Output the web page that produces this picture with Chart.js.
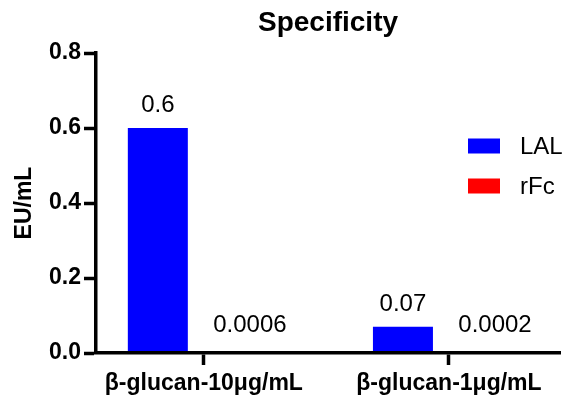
<!DOCTYPE html>
<html>
<head>
<meta charset="utf-8">
<script src="https://cdn.jsdelivr.net/npm/chart.js@4/dist/chart.umd.min.js"></script>
<style>
  html, body { margin: 0; padding: 0; background: #fff; }
  #wrap { width: 579px; height: 413px; position: relative; }
</style>
</head>
<body>
<div id="wrap"><canvas id="c"></canvas></div>
<script>
const categories = ['β-glucan-10μg/mL', 'β-glucan-1μg/mL'];
const seriesNames = ['LAL', 'rFc'];
const lalValues = [0.6, 0.07];
const rfcValues = [0.0006, 0.0002];
const yTicks = [0, 0.2, 0.4, 0.6, 0.8];

const FONT = "'Liberation Sans', Arial, sans-serif";
Chart.defaults.color = '#000';
Chart.defaults.font.family = FONT;

const valueLabels = {
  id: 'valueLabels',
  afterDraw(chart) {
    const ctx = chart.ctx;
    ctx.save();
    ctx.font = '24px ' + FONT;
    ctx.fillStyle = '#000';
    ctx.textAlign = 'center';
    ctx.textBaseline = 'alphabetic';
    chart.data.datasets.forEach((ds, di) => {
      const meta = chart.getDatasetMeta(di);
      meta.data.forEach((bar, i) => {
        const v = ds.data[i].y;
        const y = Math.min(bar.y - 16, bar.base - 21);
        ctx.fillText(String(v), bar.x, y);
      });
    });
    ctx.restore();
  }
};

const sideLegend = {
  id: 'sideLegend',
  afterDraw(chart) {
    const ctx = chart.ctx;
    const a = chart.chartArea;
    ctx.save();
    chart.data.datasets.forEach((ds, i) => {
      const y = a.top + 93 + i * 40;
      ctx.fillStyle = ds.backgroundColor;
      ctx.fillRect(a.right - 92, y - 7.5, 32, 15);
      ctx.fillStyle = '#000';
      ctx.font = '24px ' + FONT;
      ctx.textAlign = 'left';
      ctx.textBaseline = 'middle';
      ctx.fillText(ds.label, a.right - 40, y + 1);
    });
    ctx.restore();
  }
};

new Chart(document.getElementById('c'), {
  type: 'bar',
  data: {
    datasets: [
      {
        label: seriesNames[0],
        data: lalValues.map((v, i) => ({ x: i, y: v })),
        backgroundColor: '#0000ff',
        categoryPercentage: 0.751,
        barPercentage: 0.652
      },
      {
        label: seriesNames[1],
        data: rfcValues.map((v, i) => ({ x: i, y: v })),
        backgroundColor: '#ff0000',
        categoryPercentage: 0.751,
        barPercentage: 0.652
      }
    ]
  },
  options: {
    responsive: true,
    maintainAspectRatio: false,
    animation: false,
    layout: { padding: { left: 0, right: 19, top: 0, bottom: 0 } },
    plugins: {
      legend: { display: false },
      tooltip: { enabled: false },
      title: {
        display: true,
        text: 'Specificity',
        fullSize: false,
        font: { size: 28, weight: 'bold', family: FONT },
        color: '#000',
        padding: { top: 6, bottom: 13.4 }
      }
    },
    scales: {
      x: {
        type: 'linear',
        min: -0.44,
        max: 1.453,
        offset: false,
        afterBuildTicks(scale) {
          scale.ticks = categories.map((_, i) => ({ value: i }));
        },
        afterFit(scale) { scale.height = 60; },
        ticks: {
          callback: (v) => categories[v] ?? '',
          font: { size: 23, weight: 'bold', family: FONT },
          color: '#000',
          padding: 5,
          maxRotation: 0,
          autoSkip: false
        },
        grid: {
          display: true,
          offset: false,
          z: 1,
          drawOnChartArea: false,
          drawTicks: true,
          tickLength: 12,
          tickWidth: 3.5,
          tickColor: '#000'
        },
        border: { display: true, color: '#000', width: 3.5, z: 2 }
      },
      y: {
        min: 0,
        max: 0.8,
        afterBuildTicks(scale) {
          scale.ticks = yTicks.map(v => ({ value: v }));
        },
        afterFit(scale) { scale.width = 96; },
        ticks: {
          callback: (v) => Number(v).toFixed(1),
          font: { size: 23, weight: 'bold', family: FONT },
          color: '#000',
          padding: 3
        },
        grid: {
          display: true,
          z: 1,
          drawOnChartArea: false,
          drawTicks: true,
          tickLength: 12,
          tickWidth: 3.5,
          tickColor: '#000'
        },
        border: { display: true, color: '#000', width: 3.5, z: 2 },
        title: {
          display: true,
          text: 'EU/mL',
          font: { size: 23, weight: 'bold', family: FONT },
          color: '#000',
          padding: { top: 11, bottom: 0 }
        }
      }
    }
  },
  plugins: [valueLabels, sideLegend]
});
</script>
</body>
</html>
